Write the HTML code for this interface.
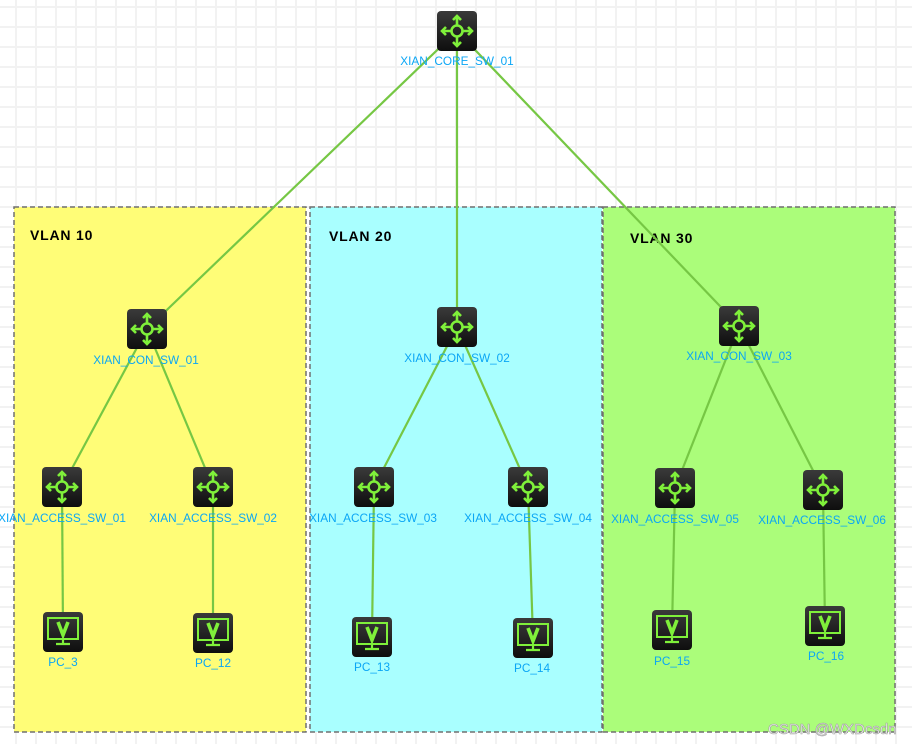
<!DOCTYPE html>
<html><head><meta charset="utf-8"><style>
html,body{margin:0;padding:0;background:#fff;}
svg{display:block;}
text{font-family:"Liberation Sans",Arial,sans-serif;}
.lb{font-size:11.8px;fill:#0ba6f5;text-anchor:middle;}
.vl{font-size:14px;font-weight:bold;fill:#000;letter-spacing:0.8px;}
</style></head><body>
<svg width="912" height="744" viewBox="0 0 912 744" xmlns="http://www.w3.org/2000/svg">
<defs>
<pattern id="g" x="0" y="0" width="20" height="20" patternUnits="userSpaceOnUse" patternTransform="translate(15,6)">
<path d="M0 1H20M1 0V20" stroke="#f2f2f2" stroke-width="2" fill="none"/>
</pattern>
<linearGradient id="dk" x1="0" y1="0" x2="0" y2="1">
<stop offset="0" stop-color="#3a3a3a"/><stop offset="1" stop-color="#0e0e0e"/>
</linearGradient>
<g id="sw">
<rect x="-20" y="-20" width="40" height="40" rx="4" fill="url(#dk)"/>
<g stroke="#7ff03a" stroke-width="2.6" fill="none">
<circle r="5.5"/>
<path d="M0-5.5V-15M0 5.5V15M-5.5 0H-15M5.5 0H15"/>
<path d="M-4-11L0-15L4-11M-4 11L0 15L4 11M-11-4L-15 0L-11 4M11-4L15 0L11 4"/>
</g>
</g>
<g id="pc">
<rect x="-20" y="-20" width="40" height="40" rx="4" fill="url(#dk)"/>
<rect x="-15" y="-14" width="30" height="21" fill="none" stroke="#7ff03a" stroke-width="2"/>
<path d="M-5-10L0 3L5-10" stroke="#7ff03a" stroke-width="3.6" fill="none"/>
<path d="M0 7V11M-7 12H7" stroke="#7ff03a" stroke-width="2.2"/>
</g>
</defs>
<rect width="912" height="744" fill="url(#g)"/>
<rect x="14" y="207" width="292" height="525" fill="#fffd77" stroke="#707070" stroke-width="1.5" stroke-dasharray="5,3"/>
<rect x="310" y="207" width="292" height="525" fill="#a9ffff" stroke="#707070" stroke-width="1.5" stroke-dasharray="5,3"/>
<rect x="603" y="207" width="292" height="525" fill="#abfd7a" stroke="#707070" stroke-width="1.5" stroke-dasharray="5,3"/>
<text class="vl" x="30" y="240">VLAN 10</text>
<text class="vl" x="329" y="241">VLAN 20</text>
<text class="vl" x="630" y="243">VLAN 30</text>
<g stroke="#76c744" stroke-width="2.2">
<line x1="457" y1="31" x2="147" y2="329"/>
<line x1="457" y1="31" x2="457" y2="327"/>
<line x1="457" y1="31" x2="739" y2="326"/>
<line x1="147" y1="329" x2="62" y2="487"/>
<line x1="147" y1="329" x2="213" y2="487"/>
<line x1="457" y1="327" x2="374" y2="487"/>
<line x1="457" y1="327" x2="528" y2="487"/>
<line x1="739" y1="326" x2="675" y2="488"/>
<line x1="739" y1="326" x2="823" y2="490"/>
<line x1="62" y1="487" x2="63" y2="632"/>
<line x1="213" y1="487" x2="213" y2="633"/>
<line x1="374" y1="487" x2="372" y2="637"/>
<line x1="528" y1="487" x2="533" y2="638"/>
<line x1="675" y1="488" x2="672" y2="630"/>
<line x1="823" y1="490" x2="825" y2="626"/>
</g>
<use href="#sw" x="457" y="31"/>
<use href="#sw" x="147" y="329"/>
<use href="#sw" x="457" y="327"/>
<use href="#sw" x="739" y="326"/>
<use href="#sw" x="62" y="487"/>
<use href="#sw" x="213" y="487"/>
<use href="#sw" x="374" y="487"/>
<use href="#sw" x="528" y="487"/>
<use href="#sw" x="675" y="488"/>
<use href="#sw" x="823" y="490"/>
<use href="#pc" x="63" y="632"/>
<use href="#pc" x="213" y="633"/>
<use href="#pc" x="372" y="637"/>
<use href="#pc" x="533" y="638"/>
<use href="#pc" x="672" y="630"/>
<use href="#pc" x="825" y="626"/>
<text class="lb" x="457" y="65">XIAN_CORE_SW_01</text>
<text class="lb" x="146" y="364">XIAN_CON_SW_01</text>
<text class="lb" x="457" y="362">XIAN_CON_SW_02</text>
<text class="lb" x="739" y="360">XIAN_CON_SW_03</text>
<text class="lb" x="62" y="522">XIAN_ACCESS_SW_01</text>
<text class="lb" x="213" y="522">XIAN_ACCESS_SW_02</text>
<text class="lb" x="373" y="522">XIAN_ACCESS_SW_03</text>
<text class="lb" x="528" y="522">XIAN_ACCESS_SW_04</text>
<text class="lb" x="675" y="523">XIAN_ACCESS_SW_05</text>
<text class="lb" x="822" y="524">XIAN_ACCESS_SW_06</text>
<text class="lb" x="63" y="666">PC_3</text>
<text class="lb" x="213" y="667">PC_12</text>
<text class="lb" x="372" y="671">PC_13</text>
<text class="lb" x="532" y="672">PC_14</text>
<text class="lb" x="672" y="665">PC_15</text>
<text class="lb" x="826" y="660">PC_16</text>
<text x="768" y="734" font-size="15" fill="#f4f4f4" stroke="#a0a0a0" stroke-width="0.6">CSDN @WXDcsdn</text>
</svg>
</body></html>
